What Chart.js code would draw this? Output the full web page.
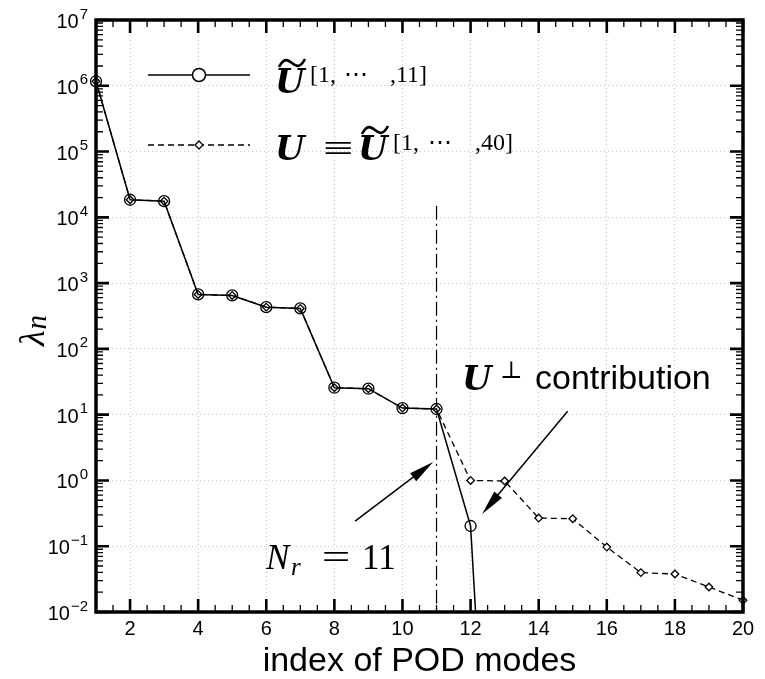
<!DOCTYPE html>
<html>
<head>
<meta charset="utf-8">
<script src="https://cdn.jsdelivr.net/npm/chart.js@4.4.1/dist/chart.umd.min.js"></script>
<style>
  html, body { margin: 0; padding: 0; background: #fff; }
</style>
</head>
<body>
<canvas id="myChart" width="765" height="679"></canvas>
<script>
// POD eigenvalue spectrum
const modes = [1, 2, 3, 4, 5, 6, 7, 8, 9, 10, 11, 12, 13, 14, 15, 16, 17, 18, 19, 20];
// reduced basis (first 11 modes), runs off the bottom after mode 12
const lambdaReduced = [1.17e6, 1.85e4, 1.76e4, 673, 650, 431, 412, 25.7, 24.8, 12.6, 12.2, 0.203, 2.5e-10];
// full basis (40 modes), first 20 shown
const lambdaFull = [1.17e6, 1.85e4, 1.76e4, 673, 650, 431, 412, 25.7, 24.8, 12.6, 12.2, 1.0, 0.98, 0.268, 0.262, 0.097, 0.0397, 0.0378, 0.024, 0.0151];

const xTickValues = [2, 4, 6, 8, 10, 12, 14, 16, 18, 20];
const yTickExponents = [-2, -1, 0, 1, 2, 3, 4, 5, 6, 7];

const cutoffMode = 11;
const cutoffTop = 1.5e4;

const serif = '"Liberation Serif", "DejaVu Serif", serif';
const djSerif = '"DejaVu Serif", serif';
const sans = '"Liberation Sans", Arial, sans-serif';

function toPoints(vals) {
    return vals.map((v, i) => ({ x: modes[i], y: v }));
}

function drawArrow(ctx, x1, y1, x2, y2) {
    const ang = Math.atan2(y2 - y1, x2 - x1);
    const len = 25, half = 5;
    ctx.save();
    ctx.strokeStyle = '#000';
    ctx.fillStyle = '#000';
    ctx.lineWidth = 1.5;
    ctx.setLineDash([]);
    ctx.beginPath();
    ctx.moveTo(x1, y1);
    ctx.lineTo(x2 - Math.cos(ang) * len * 0.8, y2 - Math.sin(ang) * len * 0.8);
    ctx.stroke();
    ctx.beginPath();
    ctx.moveTo(x2, y2);
    ctx.lineTo(x2 - Math.cos(ang) * len - Math.sin(ang) * half, y2 - Math.sin(ang) * len + Math.cos(ang) * half);
    ctx.lineTo(x2 - Math.cos(ang) * len + Math.sin(ang) * half, y2 - Math.sin(ang) * len - Math.cos(ang) * half);
    ctx.closePath();
    ctx.fill();
    ctx.restore();
}

function drawTilde(ctx, x, y, w) {
    // wide tilde, y = vertical middle
    ctx.save();
    ctx.lineWidth = 2.6;
    ctx.strokeStyle = '#000';
    ctx.beginPath();
    ctx.moveTo(x, y + 4);
    ctx.bezierCurveTo(x + w * 0.2, y - 6, x + w * 0.35, y - 3, x + w * 0.5, y);
    ctx.bezierCurveTo(x + w * 0.65, y + 3, x + w * 0.8, y + 6, x + w, y - 4);
    ctx.stroke();
    ctx.restore();
}

function drawBoldU(ctx, x, y) {
    ctx.font = 'bold italic 34px ' + djSerif;
    ctx.textAlign = 'left';
    ctx.fillText('U', x, y);
}

// wide math symbol (=, ≡) stretched like TeX
function drawWide(ctx, s, cx, y, size, sx) {
    ctx.save();
    ctx.translate(cx, y);
    ctx.scale(sx, 1);
    ctx.font = size + 'px ' + serif;
    ctx.textAlign = 'center';
    ctx.fillText(s, 0, 0);
    ctx.restore();
}

function drawSuperBracket(ctx, x0, xMid, x1, y, last) {
    ctx.font = '24px ' + serif;
    ctx.textAlign = 'left';
    ctx.fillText('[1,', x0, y);
    ctx.textAlign = 'right';
    ctx.fillText(',' + last + ']', x1, y);
    ctx.font = '24px ' + djSerif;
    ctx.textAlign = 'center';
    ctx.fillText('\u22EF', xMid, y);
}

const decor = {
    id: 'decor',
    beforeDatasetsDraw(chart) {
        const ctx = chart.ctx;
        const xs = chart.scales.x, ys = chart.scales.y;
        const px = xs.getPixelForValue(cutoffMode);
        ctx.save();
        ctx.strokeStyle = '#000';
        ctx.lineWidth = 1.2;
        ctx.setLineDash([14, 4, 2, 4]);
        ctx.beginPath();
        ctx.moveTo(px, ys.getPixelForValue(cutoffTop));
        ctx.lineTo(px, chart.chartArea.bottom);
        ctx.stroke();
        ctx.restore();
    },
    afterDraw(chart) {
        const ctx = chart.ctx;
        const a = chart.chartArea;
        const xs = chart.scales.x, ys = chart.scales.y;
        ctx.save();
        ctx.strokeStyle = '#000';
        ctx.fillStyle = '#000';
        ctx.setLineDash([]);

        // inward ticks
        const major = 13, minor = 7;
        ctx.lineWidth = 2.6;
        xTickValues.forEach(v => {
            const p = xs.getPixelForValue(v);
            ctx.beginPath();
            ctx.moveTo(p, a.bottom); ctx.lineTo(p, a.bottom - major);
            ctx.moveTo(p, a.top); ctx.lineTo(p, a.top + major);
            ctx.stroke();
        });
        ctx.lineWidth = 1.3;
        for (let v = 1.5; v < 20; v += 0.5) {
            if (xTickValues.includes(v)) continue;
            const p = xs.getPixelForValue(v);
            ctx.beginPath();
            ctx.moveTo(p, a.bottom); ctx.lineTo(p, a.bottom - minor);
            ctx.moveTo(p, a.top); ctx.lineTo(p, a.top + minor);
            ctx.stroke();
        }
        yTickExponents.forEach(e => {
            const p = ys.getPixelForValue(Math.pow(10, e));
            ctx.lineWidth = 2.6;
            ctx.beginPath();
            ctx.moveTo(a.left, p); ctx.lineTo(a.left + major, p);
            ctx.moveTo(a.right, p); ctx.lineTo(a.right - major, p);
            ctx.stroke();
            if (e === 7) return;
            ctx.lineWidth = 1.3;
            for (let k = 2; k <= 9; k++) {
                const q = ys.getPixelForValue(k * Math.pow(10, e));
                ctx.beginPath();
                ctx.moveTo(a.left, q); ctx.lineTo(a.left + minor, q);
                ctx.moveTo(a.right, q); ctx.lineTo(a.right - minor, q);
                ctx.stroke();
            }
        });

        // frame
        ctx.lineWidth = 3.5;
        ctx.strokeRect(a.left, a.top, a.right - a.left, a.bottom - a.top);

        // x tick labels
        ctx.font = '20px ' + sans;
        ctx.textAlign = 'center';
        ctx.textBaseline = 'alphabetic';
        xTickValues.forEach(v => {
            ctx.fillText(String(v), xs.getPixelForValue(v), a.bottom + 23);
        });
        // y tick labels 10^e
        yTickExponents.forEach(e => {
            const p = ys.getPixelForValue(Math.pow(10, e));
            const exp = String(e).replace('-', '\u2212');
            ctx.font = '15px ' + sans;
            ctx.textAlign = 'right';
            const ew = ctx.measureText(exp).width;
            ctx.fillText(exp, 88, p - 1.5);
            ctx.font = '20px ' + sans;
            ctx.fillText('10', 88 - ew - 1, p + 8);
        });

        // axis titles
        ctx.font = '34px ' + sans;
        ctx.textAlign = 'center';
        ctx.fillText('index of POD modes', (a.left + a.right) / 2, 671);
        ctx.save();
        ctx.translate(44, 346);
        ctx.rotate(-Math.PI / 2);
        ctx.textAlign = 'left';
        ctx.font = 'italic 36px ' + serif;
        ctx.fillText('\u03BB', 0, 0);
        const lw = ctx.measureText('\u03BB').width;
        ctx.font = 'italic 29px ' + serif;
        ctx.fillText('n', lw + 1, 2);
        ctx.restore();

        // legend
        ctx.lineWidth = 1.5;
        ctx.beginPath();
        ctx.moveTo(148, 75); ctx.lineTo(250, 75);
        ctx.stroke();
        ctx.beginPath();
        ctx.arc(199, 75, 6.5, 0, Math.PI * 2);
        ctx.fillStyle = '#fff';
        ctx.fill();
        ctx.stroke();
        ctx.fillStyle = '#000';
        ctx.lineWidth = 1.3;
        ctx.setLineDash([6, 4]);
        ctx.beginPath();
        ctx.moveTo(148, 145); ctx.lineTo(250, 145);
        ctx.stroke();
        ctx.setLineDash([]);
        ctx.beginPath();
        ctx.moveTo(199, 141); ctx.lineTo(203, 145); ctx.lineTo(199, 149); ctx.lineTo(195, 145);
        ctx.closePath();
        ctx.fillStyle = '#fff';
        ctx.fill();
        ctx.stroke();
        ctx.fillStyle = '#000';

        drawBoldU(ctx, 275, 93);
        drawTilde(ctx, 279, 63, 26);
        drawSuperBracket(ctx, 310, 356, 427, 82, '11');

        drawBoldU(ctx, 275, 160);
        drawWide(ctx, '\u2261', 338, 160, 36, 1.5);
        drawBoldU(ctx, 358, 160);
        drawTilde(ctx, 362, 130, 26);
        drawSuperBracket(ctx, 393, 440, 513, 150, '40');

        // annotations
        drawBoldU(ctx, 462, 390);
        ctx.font = '24px ' + djSerif;
        ctx.textAlign = 'left';
        ctx.fillText('\u22A5', 500, 378);
        ctx.font = '34px ' + sans;
        ctx.fillText('contribution', 535, 389);

        ctx.font = 'italic 35px ' + serif;
        ctx.fillText('N', 266, 569);
        ctx.font = 'italic 25px ' + serif;
        ctx.fillText('r', 291, 575);
        drawWide(ctx, '=', 336, 569, 35, 1.45);
        ctx.font = '35px ' + serif;
        ctx.textAlign = 'left';
        ctx.fillText('11', 362, 569);

        drawArrow(ctx, xs.getPixelForValue(8.61), ys.getPixelForValue(0.24),
                       xs.getPixelForValue(10.9), ys.getPixelForValue(1.9));
        drawArrow(ctx, xs.getPixelForValue(14.85), ys.getPixelForValue(11.3),
                       xs.getPixelForValue(12.34), ys.getPixelForValue(0.31));
        ctx.restore();
    }
};

const chart = new Chart(document.getElementById('myChart').getContext('2d'), {
    type: 'line',
    data: {
        datasets: [{
            label: 'reduced',
            data: toPoints(lambdaReduced),
            borderColor: '#000',
            borderWidth: 1.5,
            pointStyle: 'circle',
            pointRadius: 5.5,
            pointBorderWidth: 1.3,
            pointBorderColor: '#000',
            pointBackgroundColor: 'rgba(0,0,0,0)',
            tension: 0,
            clip: { left: 12, right: 12, top: 12, bottom: 0 }
        }, {
            label: 'full',
            data: toPoints(lambdaFull),
            borderColor: '#000',
            borderWidth: 1.3,
            borderDash: [6, 4],
            pointStyle: 'rectRot',
            pointRadius: 3.8,
            pointBorderWidth: 1.3,
            pointBorderColor: '#000',
            pointBackgroundColor: '#fff',
            tension: 0,
            clip: { left: 12, right: 12, top: 12, bottom: 0 }
        }]
    },
    options: {
        responsive: false,
        animation: false,
        devicePixelRatio: 1,
        layout: { padding: { left: 96, right: 22, top: 20, bottom: 67 } },
        plugins: {
            legend: { display: false },
            tooltip: { enabled: false }
        },
        scales: {
            x: {
                type: 'linear',
                min: 1,
                max: 20,
                afterBuildTicks: s => { s.ticks = xTickValues.map(v => ({ value: v })); },
                ticks: { display: false },
                grid: { color: '#c8c8c8', lineWidth: 1, drawTicks: false },
                border: { display: false, dash: [1, 3] }
            },
            y: {
                type: 'logarithmic',
                min: 1e-2,
                max: 1e7,
                afterBuildTicks: s => { s.ticks = yTickExponents.map(e => ({ value: Math.pow(10, e) })); },
                ticks: { display: false },
                grid: { color: '#c8c8c8', lineWidth: 1, drawTicks: false },
                border: { display: false, dash: [1, 3] }
            }
        }
    },
    plugins: [decor]
});
</script>
</body>
</html>
